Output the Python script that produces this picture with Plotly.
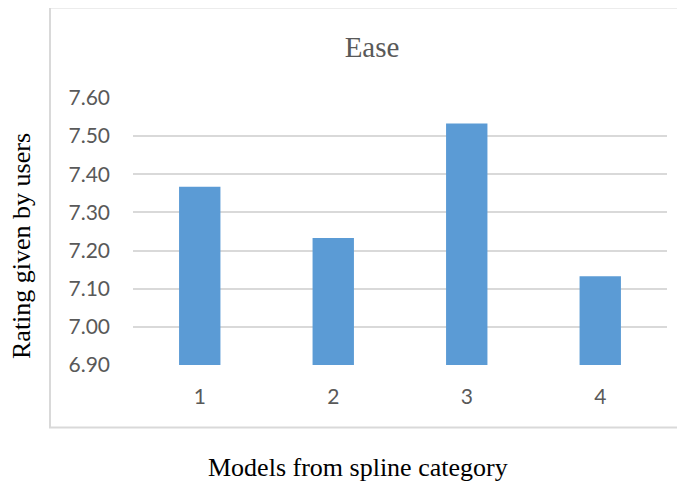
import plotly.graph_objects as go

categories = ["1", "2", "3", "4"]
values = [7.367, 7.233, 7.533, 7.133]
axis_min = 6.9
y_ticks = [6.90, 7.00, 7.10, 7.20, 7.30, 7.40, 7.50, 7.60]
y_tick_labels = ["6.90", "7.00", "7.10", "7.20", "7.30", "7.40", "7.50", "7.60"]

TEXT = "#595959"
GRID = "#D9D9D9"
BAR = "#5B9BD5"

# page body has an 8px default margin; size the figure so it fits the window
OFF = 8
W, H = 685 - OFF, 486 - OFF

fig = go.Figure(
    go.Bar(
        x=categories,
        y=[v - axis_min for v in values],
        base=axis_min,
        marker=dict(color=BAR, line=dict(width=0)),
        width=0.31,
        hovertext=[f"{v:.3f}" for v in values],
    )
)

fig.update_layout(
    width=W,
    height=H,
    margin=dict(l=133 - OFF, r=18, t=98 - OFF, b=121),
    paper_bgcolor="white",
    plot_bgcolor="white",
    showlegend=False,
    title=dict(
        text="Ease",
        x=(372 - OFF) / W,
        xref="container",
        xanchor="center",
        y=1 - (47 - OFF) / H,
        yref="container",
        yanchor="middle",
        font=dict(family="Liberation Serif", size=29, color=TEXT),
    ),
    xaxis=dict(
        type="category",
        showgrid=False,
        showline=False,
        zeroline=False,
        ticks="",
        ticklabelstandoff=17,
        tickfont=dict(family="Lato", size=21, color=TEXT),
    ),
    yaxis=dict(
        range=[6.9, 7.6],
        tickvals=y_ticks,
        ticktext=y_tick_labels,
        showgrid=True,
        gridcolor=GRID,
        gridwidth=2,
        zeroline=False,
        showline=False,
        ticks="",
        ticklabelstandoff=22,
        tickfont=dict(family="Lato", size=21, color=TEXT),
    ),
    shapes=[
        dict(
            type="rect",
            xref="paper",
            yref="paper",
            x0=(50 - 133) / 534,
            x1=(700 - 133) / 534,
            y0=(365 - 427.5) / 267,
            y1=(365 - 7.5) / 267,
            line=dict(color=GRID, width=2),
            fillcolor="rgba(0,0,0,0)",
            layer="below",
        )
    ],
    annotations=[
        dict(
            text="Models from spline category",
            xref="paper",
            yref="paper",
            x=(358 - 133) / 534,
            y=(365 - 467) / 267,
            xanchor="center",
            yanchor="middle",
            showarrow=False,
            font=dict(family="Liberation Serif", size=26, color="black"),
        ),
        dict(
            text="Rating given by users",
            xref="paper",
            yref="paper",
            x=(21 - 133) / 534,
            y=(365 - 246) / 267,
            xanchor="center",
            yanchor="middle",
            textangle=-90,
            showarrow=False,
            font=dict(family="Liberation Serif", size=26, color="black"),
        ),
    ],
)

fig.write_html("out.html")
